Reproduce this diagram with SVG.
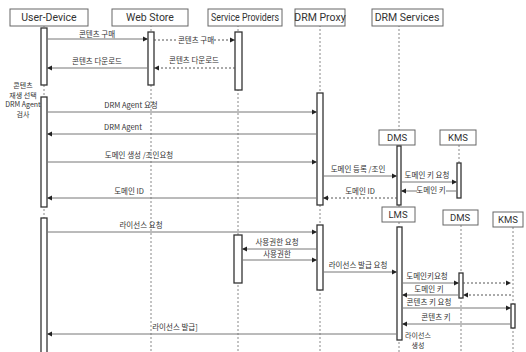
<svg xmlns="http://www.w3.org/2000/svg" width="526" height="352" viewBox="0 0 526 352">
<style>
.hd{fill:#fff;stroke:#666;stroke-width:1}
.ht{font-family:Roboto,"Noto Sans CJK KR",sans-serif;font-size:10.5px;fill:#333;text-anchor:middle}
.st{font-family:Roboto,"Noto Sans CJK KR",sans-serif;font-size:9.5px;fill:#333;text-anchor:middle}
.lt{font-family:"Noto Sans CJK KR","Noto Sans",sans-serif;font-size:7.5px;fill:#333;text-anchor:middle}
.nt{font-family:"Noto Sans CJK KR","Noto Sans",sans-serif;font-size:7px;fill:#333;text-anchor:middle}
.life{stroke:#888;stroke-width:1;stroke-dasharray:2,2;fill:none}
.bar{fill:#fff;stroke:#333;stroke-width:1.3}
.msg{stroke:#777;stroke-width:1;fill:none;marker-end:url(#ah)}
.dmsg{stroke:#555;stroke-width:1;stroke-dasharray:2,2;fill:none;marker-end:url(#ah)}
.bg{fill:#fff}
</style>
<defs>
<marker id="ah" markerWidth="6" markerHeight="6" refX="5" refY="3" orient="auto" markerUnits="userSpaceOnUse">
<path d="M0,0.5 L5,3 L0,5.5 Z" fill="#222"/>
</marker>
</defs>
<rect width="526" height="352" fill="#fff"/>

<g id="lifelines">
<line class="life" x1="44" y1="25" x2="44" y2="352"/>
<line class="life" x1="151" y1="25" x2="151" y2="352"/>
<line class="life" x1="238" y1="25" x2="238" y2="352"/>
<line class="life" x1="320" y1="25" x2="320" y2="352"/>
<line class="life" x1="399" y1="25" x2="399" y2="130"/>
<line class="life" x1="399" y1="205" x2="399" y2="207"/>
<line class="life" x1="399" y1="222" x2="399" y2="352"/>
<line class="life" x1="459" y1="145" x2="459" y2="163"/>
<line class="life" x1="461" y1="225" x2="461" y2="352"/>
<line class="life" x1="513" y1="227" x2="513" y2="352"/>
</g>

<g id="user-device">
<rect class="hd" x="10" y="9" width="78" height="17"/>
<text class="ht" x="49" y="21">User-Device</text>
<rect class="bar" x="41" y="28" width="6" height="57"/>
<rect class="bar" x="41" y="97" width="6" height="110"/>
<rect class="bar" x="41" y="218" width="6" height="140"/>
</g>
<g id="web-store">
<rect class="hd" x="112" y="9" width="76" height="17"/>
<text class="ht" x="150" y="21">Web Store</text>
<rect class="bar" x="148" y="32" width="6" height="53"/>
</g>
<g id="service-providers">
<rect class="hd" x="208" y="9" width="74" height="17"/>
<text class="ht" x="245" y="21" textLength="68" lengthAdjust="spacingAndGlyphs">Service Providers</text>
<rect class="bar" x="235" y="32" width="7" height="58"/>
<rect class="bar" x="234" y="235" width="8" height="48"/>
</g>
<g id="drm-proxy">
<rect class="hd" x="295" y="9" width="50" height="17"/>
<text class="ht" x="320" y="21">DRM Proxy</text>
<rect class="bar" x="317" y="93" width="6" height="112"/>
<rect class="bar" x="317" y="225" width="6" height="65"/>
</g>
<g id="drm-services">
<rect class="hd" x="372" y="9" width="71" height="17"/>
<text class="ht" x="407" y="21">DRM Services</text>
</g>
<g id="dms">
<rect class="hd" x="379" y="130" width="36" height="15"/>
<text class="st" x="397" y="141">DMS</text>
<rect class="bar" x="397" y="146" width="4" height="59"/>
</g>
<g id="kms">
<rect class="hd" x="440" y="130" width="36" height="15"/>
<text class="st" x="458" y="141">KMS</text>
<rect class="bar" x="457" y="163" width="4" height="35"/>
</g>
<g id="lms">
<rect class="hd" x="382" y="207" width="33" height="15"/>
<text class="st" x="398" y="218">LMS</text>
<rect class="bar" x="397" y="227" width="5" height="113"/>
</g>
<g id="dms2">
<rect class="hd" x="443" y="210" width="35" height="15"/>
<text class="st" x="460" y="221">DMS</text>
<rect class="bar" x="459" y="273" width="4" height="25"/>
</g>
<g id="kms2">
<rect class="hd" x="493" y="212" width="30" height="15"/>
<text class="st" x="508" y="223">KMS</text>
<rect class="bar" x="511" y="304" width="4" height="24"/>
</g>

<g id="notes">
<text class="nt" x="23" y="88">콘텐츠</text>
<text class="nt" x="23" y="97.5">재생 선택</text>
<text class="nt" x="23" y="107">DRM Agent</text>
<text class="nt" x="23" y="116.5">검사</text>
<text class="nt" x="418" y="338">라이선스</text>
<text class="nt" x="418" y="348">생성</text>
</g>

<g id="connectors">
<line class="msg" x1="47" y1="39" x2="148" y2="39"/>
<text class="lt" x="97" y="37">콘텐츠 구매</text>
<line class="dmsg" x1="154" y1="40" x2="235" y2="40"/>
<rect class="bg" x="178" y="35" width="36" height="9"/>
<text class="lt" x="196" y="43">콘텐츠 구매</text>
<line class="dmsg" x1="235" y1="68" x2="154" y2="68"/>
<text class="lt" x="194" y="63">콘텐츠 다운로드</text>
<line class="msg" x1="148" y1="68" x2="47" y2="68"/>
<text class="lt" x="97" y="64">콘텐츠 다운로드</text>

<line class="msg" x1="47" y1="112" x2="317" y2="112"/>
<text class="lt" x="131" y="108">DRM Agent 요청</text>
<line class="msg" x1="317" y1="134" x2="47" y2="134"/>
<text class="lt" x="123" y="130">DRM Agent</text>
<line class="msg" x1="47" y1="162" x2="317" y2="162"/>
<text class="lt" x="139" y="158">도메인 생성 /조인요청</text>
<line class="msg" x1="317" y1="198" x2="47" y2="198"/>
<text class="lt" x="129" y="194">도메인 ID</text>

<line class="msg" x1="323" y1="176" x2="397" y2="176"/>
<text class="lt" x="358" y="172">도메인 등록 /조인</text>
<line class="msg" x1="401" y1="182" x2="457" y2="182"/>
<text class="lt" x="427" y="178">도메인 키 요청</text>
<line class="msg" x1="457" y1="191" x2="401" y2="191"/>
<rect class="bg" x="417" y="187" width="29" height="7"/>
<text class="lt" x="431" y="193">도메인 키</text>
<line class="dmsg" x1="397" y1="198" x2="323" y2="198"/>
<text class="lt" x="360" y="194">도메인 ID</text>

<line class="msg" x1="47" y1="232" x2="317" y2="232"/>
<text class="lt" x="141" y="228">라이선스 요청</text>
<line class="msg" x1="317" y1="249" x2="242" y2="249"/>
<text class="lt" x="277" y="245">사용권한 요청</text>
<line class="msg" x1="242" y1="260" x2="317" y2="260"/>
<text class="lt" x="277" y="257">사용권한</text>
<line class="msg" x1="323" y1="272" x2="397" y2="272"/>
<text class="lt" x="358" y="268">라이선스 발급 요청</text>
<line class="msg" x1="402" y1="283" x2="459" y2="283"/>
<text class="lt" x="427" y="279">도메인키요청</text>
<line class="dmsg" x1="463" y1="283" x2="511" y2="283"/>
<line class="msg" x1="459" y1="295" x2="402" y2="295"/>
<text class="lt" x="429" y="292">도메인 키</text>
<line class="dmsg" x1="511" y1="295" x2="463" y2="295"/>
<line class="msg" x1="402" y1="308" x2="511" y2="308"/>
<text class="lt" x="429" y="305">콘텐츠 키 요청</text>
<line class="msg" x1="511" y1="324" x2="402" y2="324"/>
<text class="lt" x="436" y="320">콘텐츠 키</text>
<line class="msg" x1="397" y1="334" x2="47" y2="334"/>
<text class="lt" x="175" y="330">라이선스 발급]</text>
</g>
</svg>
